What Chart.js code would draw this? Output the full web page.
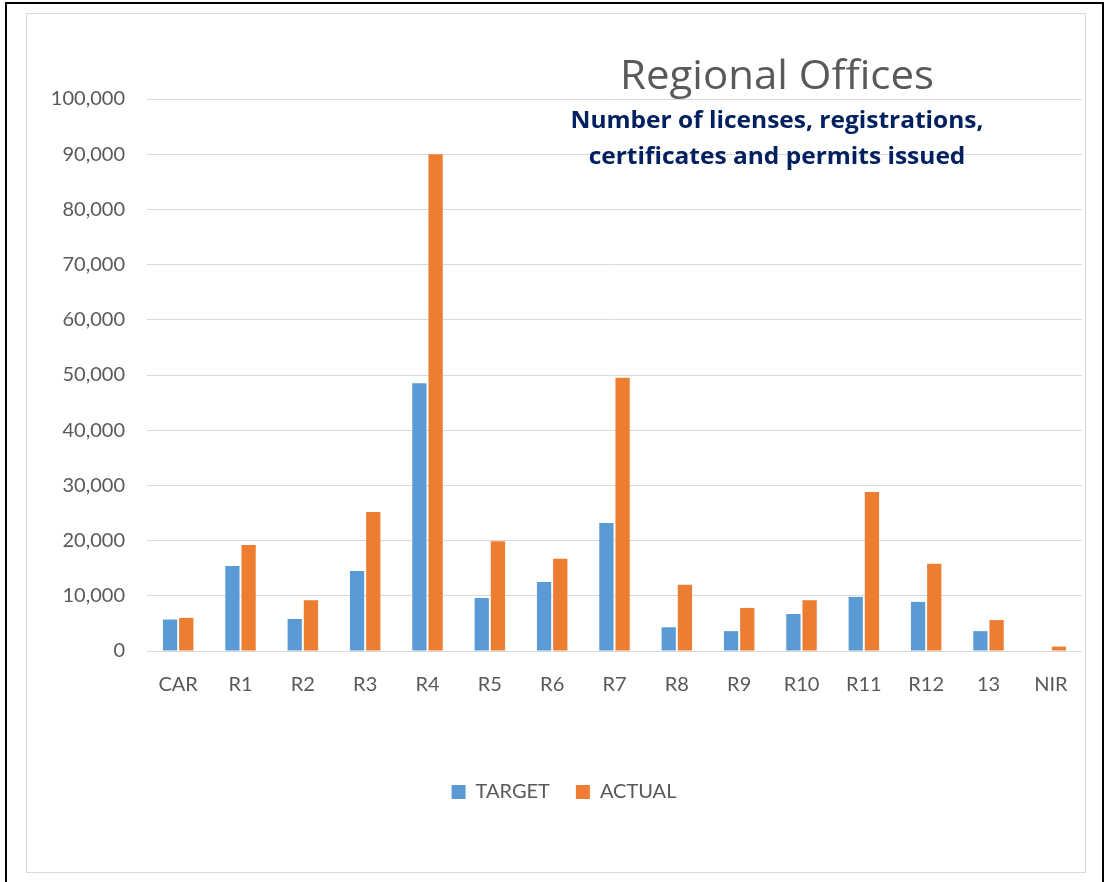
<!DOCTYPE html>
<html>
<head>
<meta charset="utf-8">
<script src="https://cdn.jsdelivr.net/npm/chart.js@4/dist/chart.umd.min.js"></script>
<style>
  html, body { margin: 0; padding: 0; background: #fff; }
  #wrap { position: absolute; left: 0; top: 0; width: 1106px; height: 882px; }
</style>
</head>
<body>
<div id="wrap"><canvas id="barChart" width="1106" height="882"></canvas></div>
<script>
var regions = ['CAR', 'R1', 'R2', 'R3', 'R4', 'R5', 'R6', 'R7', 'R8', 'R9', 'R10', 'R11', 'R12', '13', 'NIR'];
var targetValues = [5700, 15400, 5800, 14500, 48500, 9600, 12500, 23200, 4300, 3600, 6700, 9800, 8900, 3600, 0];
var actualValues = [6000, 19200, 9200, 25200, 90000, 19900, 16700, 49500, 12000, 7800, 9200, 28800, 15800, 5600, 800];
var yTicks = [0, 10000, 20000, 30000, 40000, 50000, 60000, 70000, 80000, 90000, 100000];
var titleText = 'Regional Offices';
var subtitleLines = ['Number of licenses, registrations,', 'certificates and permits issued'];

var FONT = 'Lato, "Open Sans", sans-serif';

// text a bit wider than the font gives, like the reference
function wideText(c, text, x, y, sx) {
  c.save();
  c.translate(x, y);
  c.scale(sx, 1);
  c.fillText(text, 0, 0);
  c.restore();
}

// frame + title drawn straight on the canvas
var framePlugin = {
  id: 'frame',
  beforeDraw: function (chart) {
    var c = chart.ctx;
    c.save();
    c.fillStyle = '#fff';
    c.fillRect(0, 0, chart.width, chart.height);
    c.strokeStyle = '#d9d9d9';
    c.lineWidth = 1;
    c.strokeRect(26.5, 13.5, 1059, 859);
    c.strokeStyle = '#000';
    c.lineWidth = 2;
    c.beginPath();
    c.moveTo(6, 890);
    c.lineTo(6, 3);
    c.lineTo(1103, 3);
    c.lineTo(1103, 890);
    c.stroke();
    c.restore();
  },
  afterDatasetsDraw: function (chart) {
    var c = chart.ctx;
    c.save();
    c.textAlign = 'center';
    c.textBaseline = 'alphabetic';
    c.fillStyle = '#595959';
    c.font = '40px "Open Sans", sans-serif';
    wideText(c, titleText, 777, 89, 1.05);
    c.fillStyle = '#002060';
    c.font = 'bold 23px "Open Sans", sans-serif';
    wideText(c, subtitleLines[0], 777, 128, 1.065);
    wideText(c, subtitleLines[1], 777, 164, 1.065);
    c.restore();
  }
};

var ctx = document.getElementById('barChart').getContext('2d');
var chart = new Chart(ctx, {
  type: 'bar',
  data: {
    labels: regions,
    datasets: [{
      label: 'TARGET',
      data: targetValues,
      backgroundColor: '#5b9bd5',
      borderWidth: 0
    }, {
      label: 'ACTUAL',
      data: actualValues,
      backgroundColor: '#ed7d31',
      borderWidth: 0
    }]
  },
  options: {
    responsive: false,
    animation: false,
    categoryPercentage: 0.52,
    barPercentage: 0.88,
    layout: {
      padding: { top: 99, left: 46, right: 24, bottom: 70 }
    },
    scales: {
      y: {
        min: 0,
        max: 100000,
        afterFit: function (scale) { scale.width = 101; },
        afterBuildTicks: function (scale) {
          scale.ticks = yTicks.map(function (v) { return { value: v }; });
        },
        ticks: {
          color: '#595959',
          padding: 22,
          font: { family: FONT, size: 20 },
          callback: function (v) { return v.toLocaleString('en-US'); }
        },
        grid: { color: '#d9d9d9', lineWidth: 1, drawTicks: false },
        border: { display: false }
      },
      x: {
        afterFit: function (scale) { scale.height = 105; },
        ticks: {
          color: '#595959',
          padding: 22,
          font: { family: FONT, size: 20 }
        },
        grid: { display: false, drawTicks: false },
        border: { display: false }
      }
    },
    plugins: {
      legend: {
        position: 'bottom',
        labels: {
          color: '#595959',
          boxWidth: 14,
          boxHeight: 14,
          padding: 26,
          font: { family: FONT, size: 20 }
        }
      },
      tooltip: { enabled: false }
    }
  },
  plugins: [framePlugin]
});
</script>
</body>
</html>
